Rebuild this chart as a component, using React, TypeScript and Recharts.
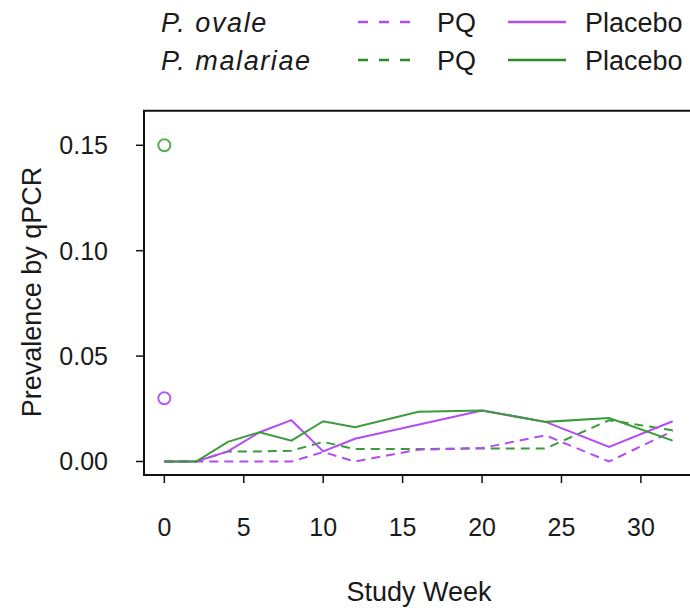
import React from 'react';
import { ComposedChart, Line, XAxis, YAxis, ReferenceArea, ReferenceDot } from 'recharts';

// study weeks with qPCR prevalence per arm
const weeks = [0, 2, 4, 6, 8, 10, 12, 16, 20, 24, 28, 32];
const ovalePQ = [0, 0, 0, 0, 0, 0.0045, 0, 0.0056, 0.0064, 0.0124, 0, 0.0144];
const ovalePlacebo = [0, 0, 0.0048, 0.0139, 0.0196, 0.0048, 0.0108, null, 0.0242, 0.0188, 0.0069, 0.0191];
const malariaePQ = [0, 0, 0.0048, 0.0048, 0.0051, 0.0093, 0.0059, 0.0059, 0.0062, 0.0062, 0.0196, 0.0148];
const malariaePlacebo = [0, 0, 0.0093, 0.0139, 0.0099, 0.0191, 0.0163, 0.0236, 0.0242, 0.0188, 0.0206, 0.0099];

// baseline prevalence (open circles at week 0)
const ovaleBaseline = 0.03;
const malariaeBaseline = 0.15;

const xTicks = [0, 5, 10, 15, 20, 25, 30];
const yTicks = [0, 0.05, 0.1, 0.15];

const X_DOMAIN: [number, number] = [-1.28, 33.28];
const Y_DOMAIN: [number, number] = [-0.0064, 0.1664];

const PURPLE = '#b24cf4';
const GREEN = '#3b9a3b';
const FONT = '"Liberation Sans", Arial, sans-serif';
const INK = '#1a1a1a';

const rows = weeks.map((week, i) => ({
  week,
  ovalePQ: ovalePQ[i],
  ovalePlacebo: ovalePlacebo[i],
  malariaePQ: malariaePQ[i],
  malariaePlacebo: malariaePlacebo[i],
}));

function LegendOverlay() {
  const rowsY = [22, 60];
  const legendRows = [
    { name: 'P. ovale', color: PURPLE },
    { name: 'P. malariae', color: '#2c8a2c' },
  ];
  return (
    <svg
      width={690}
      height={608}
      style={{ position: 'absolute', top: 0, left: 0, pointerEvents: 'none' }}
    >
      {legendRows.map((r, i) => (
        <g key={r.name} fontFamily={FONT} fontSize={27} fill={INK}>
          <text x={161} y={rowsY[i] + 10} fontStyle="italic" letterSpacing={1.6}>
            {r.name}
          </text>
          <line x1={358} x2={410} y1={rowsY[i]} y2={rowsY[i]} stroke={r.color} strokeWidth={2.5} strokeDasharray="10 11" />
          <text x={437} y={rowsY[i] + 10}>PQ</text>
          <line x1={508} x2={566} y1={rowsY[i]} y2={rowsY[i]} stroke={r.color} strokeWidth={2.5} />
          <text x={585} y={rowsY[i] + 10}>Placebo</text>
        </g>
      ))}
      <text
        x={41}
        y={292}
        transform="rotate(-90, 41, 292)"
        textAnchor="middle"
        fontFamily={FONT}
        fontSize={27}
        fill={INK}
      >
        Prevalence by qPCR
      </text>
      <text x={419} y={601} textAnchor="middle" fontFamily={FONT} fontSize={27} fill={INK}>
        Study Week
      </text>
    </svg>
  );
}

export default function App() {
  return (
    <div
      style={{
        position: 'fixed',
        top: 0,
        left: 0,
        width: 690,
        height: 608,
        overflow: 'hidden',
        background: '#fff',
      }}
    >
      <ComposedChart
        width={700}
        height={608}
        data={rows}
        margin={{ top: 110.7, right: 7, bottom: 93, left: 0 }}
      >
        <XAxis
          dataKey="week"
          type="number"
          domain={X_DOMAIN}
          ticks={xTicks}
          interval={0}
          allowDataOverflow
          axisLine={false}
          tickLine={{ stroke: '#111', strokeWidth: 1.5 }}
          tickSize={8}
          tickMargin={35}
          height={40}
          tick={{ fill: INK, fontSize: 25, fontFamily: FONT }}
        />
        <YAxis
          type="number"
          domain={Y_DOMAIN}
          ticks={yTicks}
          interval={0}
          allowDataOverflow
          width={144}
          axisLine={false}
          tickLine={{ stroke: '#111', strokeWidth: 1.5 }}
          tickSize={8}
          tickMargin={28}
          tickFormatter={(v: number) => v.toFixed(2)}
          tick={{ fill: INK, fontSize: 25, fontFamily: FONT }}
        />
        <Line
          type="linear"
          dataKey="malariaePQ"
          stroke={GREEN}
          strokeWidth={2}
          strokeDasharray="9 6"
          dot={false}
          connectNulls
          isAnimationActive={false}
        />
        <Line
          type="linear"
          dataKey="ovalePQ"
          stroke={PURPLE}
          strokeWidth={2}
          strokeDasharray="9 6"
          dot={false}
          connectNulls
          isAnimationActive={false}
        />
        <Line
          type="linear"
          dataKey="ovalePlacebo"
          stroke={PURPLE}
          strokeWidth={2}
          dot={false}
          connectNulls
          isAnimationActive={false}
        />
        <Line
          type="linear"
          dataKey="malariaePlacebo"
          stroke={GREEN}
          strokeWidth={2}
          dot={false}
          connectNulls
          isAnimationActive={false}
        />
        <ReferenceDot x={0} y={malariaeBaseline} r={6} fill="none" stroke="#55b055" strokeWidth={2} ifOverflow="visible" />
        <ReferenceDot x={0} y={ovaleBaseline} r={6} fill="none" stroke="#b45cf0" strokeWidth={2} ifOverflow="visible" />
        {/* plot frame */}
        <ReferenceArea
          x1={X_DOMAIN[0]}
          x2={X_DOMAIN[1]}
          y1={Y_DOMAIN[0]}
          y2={Y_DOMAIN[1]}
          fill="none"
          fillOpacity={0}
          stroke="#111"
          strokeWidth={2}
          ifOverflow="visible"
        />
      </ComposedChart>
      <LegendOverlay />
    </div>
  );
}
